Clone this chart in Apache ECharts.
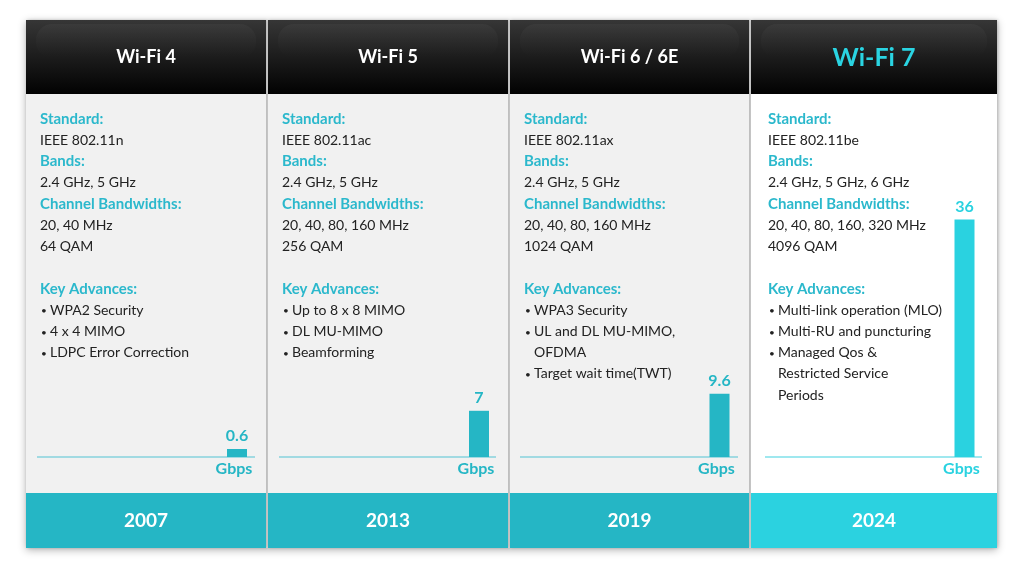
<!DOCTYPE html>
<html>
<head>
<meta charset="utf-8">
<script src="https://cdn.jsdelivr.net/npm/echarts@6/dist/echarts.min.js"></script>
<style>
html,body{margin:0;padding:0;background:#fff;}
#chart{width:1024px;height:572px;}
</style>
</head>
<body>
<div id="chart"></div>
<script>
// ---- data ----
const generations = ['Wi-Fi 4', 'Wi-Fi 5', 'Wi-Fi 6 / 6E', 'Wi-Fi 7'];
const years = ['2007', '2013', '2019', '2024'];
const standards = ['IEEE 802.11n', 'IEEE 802.11ac', 'IEEE 802.11ax', 'IEEE 802.11be'];
const bands = ['2.4 GHz, 5 GHz', '2.4 GHz, 5 GHz', '2.4 GHz, 5 GHz', '2.4 GHz, 5 GHz, 6 GHz'];
const bandwidths = ['20, 40 MHz', '20, 40, 80, 160 MHz', '20, 40, 80, 160 MHz', '20, 40, 80, 160, 320 MHz'];
const modulations = ['64 QAM', '256 QAM', '1024 QAM', '4096 QAM'];
const advances = [
  [['WPA2 Security'], ['4 x 4 MIMO'], ['LDPC Error Correction']],
  [['Up to 8 x 8 MIMO'], ['DL MU-MIMO'], ['Beamforming']],
  [['WPA3 Security'], ['UL and DL MU-MIMO,', 'OFDMA'], ['Target wait time(TWT)']],
  [['Multi-link operation (MLO)'], ['Multi-RU and puncturing'], ['Managed Qos &', 'Restricted Service', 'Periods']]
];
const speeds = [0.6, 7, 9.6, 36];
const unitLabel = 'Gbps';
const headingLabels = ['Standard:', 'Bands:', 'Channel Bandwidths:', 'Key Advances:'];

// ---- layout ----
const FONT = 'Lato, "Open Sans", sans-serif';
const TEAL = '#2bb8cc';
const panelX = [26, 268, 510, 751];
const panelR = [266, 508, 749, 997];
const headTop = 20, headBot = 94, footTop = 493, footBot = 548;
const baseY = 457;
const pxPerUnit = 6.6;
const barCenter = [237, 479, 719.5, 964.5];
const lineStart = [37, 279, 520, 765];
const lineEnd = [255, 496, 738, 982];
const textX = [40, 282, 524, 768];
const footColors = ['#25b6c5', '#25b6c5', '#25b6c5', '#2bd2e0'];
const bodyColors = ['#f1f1f1', '#f1f1f1', '#f1f1f1', '#ffffff'];

const chart = echarts.init(document.getElementById('chart'), null, {renderer: 'canvas'});
const graphics = [];

// background block with shadow (gaps between panels)
graphics.push({
  type: 'rect', z: 0,
  shape: {x: 26, y: headTop, width: 997 - 26, height: footBot - headTop},
  style: {fill: '#d9d9d9', shadowBlur: 8, shadowColor: 'rgba(0,0,0,0.30)', shadowOffsetX: 0, shadowOffsetY: 2}
});

function txt(text, x, y, font, fill, align) {
  return {
    type: 'text', z: 10,
    style: {text: text, x: x, y: y, font: font, fill: fill,
      textAlign: align || 'left', textVerticalAlign: 'middle', align: align || 'left', verticalAlign: 'middle'}
  };
}

for (let i = 0; i < 4; i++) {
  const x0 = panelX[i], x1 = panelR[i], w = x1 - x0;
  const accent = i === 3 ? '#2ad2e0' : '#25b6c5';
  // body
  graphics.push({type: 'rect', z: 1, shape: {x: x0, y: headTop, width: w, height: footBot - headTop},
    style: {fill: bodyColors[i], shadowBlur: 3, shadowColor: 'rgba(0,0,0,0.18)', shadowOffsetX: 1}});
  // header
  graphics.push({type: 'rect', z: 2, shape: {x: x0, y: headTop, width: w, height: headBot - headTop},
    style: {fill: new echarts.graphic.LinearGradient(0, 0, 0, 1, [
      {offset: 0, color: '#363636'}, {offset: 0.5, color: '#1c1c1c'}, {offset: 1, color: '#020202'}])}});
  // gloss
  graphics.push({type: 'rect', z: 3, shape: {x: x0 + 10, y: headTop + 4, width: w - 20, height: 34, r: 16},
    style: {fill: new echarts.graphic.LinearGradient(0, 0, 0, 1, [
      {offset: 0, color: 'rgba(255,255,255,0.035)'}, {offset: 1, color: 'rgba(255,255,255,0.0)'}])}});
  // footer
  graphics.push({type: 'rect', z: 2, shape: {x: x0, y: footTop, width: w, height: footBot - footTop},
    style: {fill: footColors[i]}});
  // header title
  if (i === 3) {
    graphics.push(txt(generations[i], (x0 + x1) / 2, 58, 'bold 25px ' + FONT, '#2ad4e2', 'center'));
  } else {
    graphics.push(txt(generations[i], (x0 + x1) / 2, 57, 'bold 18px ' + FONT, '#ffffff', 'center'));
  }
  // year
  graphics.push(txt(years[i], (x0 + x1) / 2, 521, 'bold 19px ' + FONT, '#ffffff', 'center'));

  // details
  const tx = textX[i];
  const step = 21.2;
  let y = 119;
  const headF = 'bold 15px ' + FONT;
  const bodyF = '14px ' + FONT;
  graphics.push(txt(headingLabels[0], tx, y, headF, TEAL)); y += step;
  graphics.push(txt(standards[i], tx, y, bodyF, '#222')); y += step;
  graphics.push(txt(headingLabels[1], tx, y, headF, TEAL)); y += step;
  graphics.push(txt(bands[i], tx, y, bodyF, '#222')); y += step;
  graphics.push(txt(headingLabels[2], tx, y, headF, TEAL)); y += step;
  graphics.push(txt(bandwidths[i], tx, y, bodyF, '#222')); y += step;
  graphics.push(txt(modulations[i], tx, y, bodyF, '#222')); y += step;
  y = 289;
  graphics.push(txt(headingLabels[3], tx, y, headF, TEAL)); y += step;
  advances[i].forEach(function (item) {
    item.forEach(function (line, k) {
      if (k === 0) graphics.push(txt('\u2022', tx + 1, y + 1, '10px ' + FONT, '#222'));
      graphics.push(txt(line, tx + 10, y, bodyF, '#222'));
      y += step;
    });
  });

  // baseline
  graphics.push({type: 'line', z: 4, shape: {x1: lineStart[i], y1: baseY, x2: lineEnd[i], y2: baseY},
    style: {stroke: i === 3 ? '#7fe0ea' : '#86d2dc', lineWidth: 1.5}});
  // unit label
  graphics.push(txt(unitLabel, barCenter[i] - 3, 469, 'bold 16px ' + FONT, accent, 'center'));
}

const grids = [], xAxes = [], yAxes = [], series = [];
for (let i = 0; i < 4; i++) {
  const barColor = i === 3 ? '#2ad2e0' : '#25b6c5';
  grids.push({left: barCenter[i] - 12, width: 24, top: baseY - 40 * pxPerUnit, height: 40 * pxPerUnit, containLabel: false});
  xAxes.push({
    type: 'category', gridIndex: i, data: [generations[i]],
    axisLine: {show: false}, axisTick: {show: false}, axisLabel: {show: false}
  });
  yAxes.push({type: 'value', gridIndex: i, min: 0, max: 40, show: false, splitLine: {show: false}});
  series.push({
    type: 'bar', xAxisIndex: i, yAxisIndex: i, data: [speeds[i]],
    barWidth: 20, barMinHeight: 8, z: 5,
    itemStyle: {color: barColor},
    label: {show: true, position: 'top', distance: 5, color: barColor, fontWeight: 'bold', fontSize: 16, fontFamily: FONT},
    silent: true, animation: false
  });
}

chart.setOption({
  animation: false,
  grid: grids, xAxis: xAxes, yAxis: yAxes, series: series,
  graphic: {elements: graphics}
});
</script>
</body>
</html>
